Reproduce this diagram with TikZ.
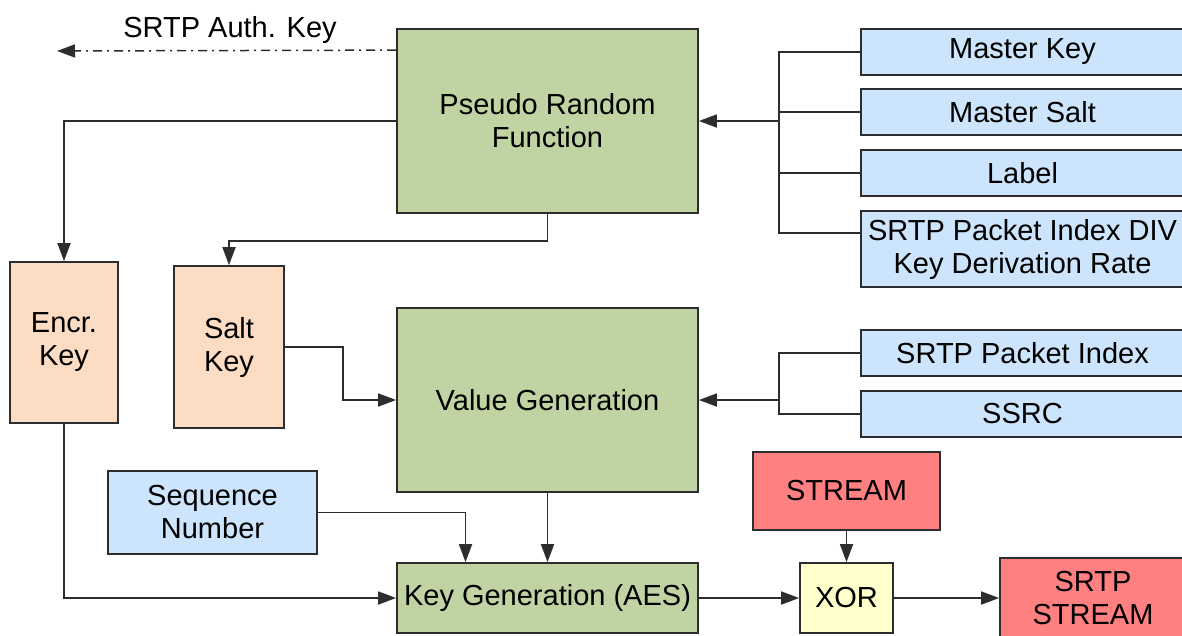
\documentclass[tikz,border=0pt]{standalone}
\usepackage{fontspec}
\setmainfont{Liberation Sans}
\usetikzlibrary{arrows.meta}
\definecolor{prfgreen}{RGB}{192,211,162}
\definecolor{inblue}{RGB}{204,228,252}
\definecolor{keypeach}{RGB}{252,221,196}
\definecolor{streamred}{RGB}{255,128,128}
\definecolor{xoryellow}{RGB}{255,255,204}
\definecolor{edge}{RGB}{45,45,45}
\tikzset{
  blk/.style={draw=edge, line width=1.8pt, align=center, inner sep=0pt,
    font=\fontsize{29}{33}\selectfont},
  func/.style={blk, fill=prfgreen},
  inp/.style={blk, fill=inblue},
  keybox/.style={blk, fill=keypeach},
  strm/.style={blk, fill=streamred},
  xorbox/.style={blk, fill=xoryellow},
  conn/.style={draw=edge, line width=1.8pt},
  arr/.style={conn, -{Triangle[length=18pt,width=13pt]}},
  authline/.style={draw=edge, line width=1.5pt,
    dash pattern=on 9pt off 5pt on 2pt off 5pt,
    -{Triangle[length=18pt,width=13pt]}}
}
\begin{document}
\begin{tikzpicture}[x=1pt,y=-1pt]
  \useasboundingbox (0,0) rectangle (1182,635);
  \clip (0,0) rectangle (1182,635);

  % processing blocks
  \node[func, minimum width=301pt, minimum height=184pt] (prf) at (547.5,121) {Pseudo Random\\Function};
  \node[func, minimum width=301pt, minimum height=184pt] (vg) at (547.5,400) {Value Generation};
  \node[func, minimum width=301pt, minimum height=70pt] (kg) at (547.5,598) {Key Generation (AES)};

  % inputs to the pseudo random function
  \node[inp, minimum width=323pt, minimum height=46pt] (mkey) at (1022.5,52) {Master Key};
  \node[inp, minimum width=323pt, minimum height=46pt] (msalt) at (1022.5,112) {Master Salt};
  \node[inp, minimum width=323pt, minimum height=46pt] (label) at (1022.5,173) {Label};
  \node[inp, minimum width=323pt, minimum height=76pt] (div) at (1022.5,249) {SRTP Packet Index DIV\\Key Derivation Rate};

  % inputs to the value generation
  \node[inp, minimum width=323pt, minimum height=46pt] (pidx) at (1022.5,353) {SRTP Packet Index};
  \node[inp, minimum width=323pt, minimum height=46pt] (ssrc) at (1022.5,414) {SSRC};
  \node[inp, minimum width=209pt, minimum height=83pt] (seq) at (212.5,512.5) {Sequence\\Number};

  % derived keys
  \node[keybox, minimum width=108pt, minimum height=161pt] (enc) at (64,342.5) {Encr.\\Key};
  \node[keybox, minimum width=110pt, minimum height=162pt] (salt) at (229,347) {Salt\\Key};

  % stream encryption
  \node[strm, minimum width=187pt, minimum height=78pt] (stream) at (846.5,491) {STREAM};
  \node[xorbox, minimum width=93pt, minimum height=70pt] (xor) at (846.5,598) {XOR};
  \node[strm, minimum width=186pt, minimum height=80pt] (sstream) at (1093,598) {SRTP\\STREAM};

  % authentication key output
  \coordinate (authend) at (57,51);
  \draw[authline] ([yshift=-22pt]prf.north west) -- (authend);
  \node[font=\fontsize{29}{33}\selectfont] (authlbl) at (230,30) {SRTP Auth. Key};

  % collecting bus into the pseudo random function
  \coordinate (bus1) at (779,121);
  \draw[conn] (mkey.west) -| (bus1);
  \draw[conn] (msalt.west) -| (bus1);
  \draw[conn] (label.west) -| (bus1);
  \draw[conn] ([yshift=16pt]div.west) -| (bus1);
  \draw[arr] (bus1) -- (prf.east);

  % collecting bus into the value generation
  \coordinate (bus2) at (779,400);
  \draw[conn] (pidx.west) -| (bus2);
  \draw[conn] (ssrc.west) -| (bus2);
  \draw[arr] (bus2) -- (vg.east);

  % key derivation paths
  \draw[arr] (prf.west) -| (enc.north);
  \draw[arr] (prf.south) -- ++(0,27) -| (salt.north);
  \draw[arr] (salt.east) -- ++(58,0) |- (vg.west);
  \draw[arr] (enc.south) |- (kg.west);
  \draw[arr] (seq.east) -| ([xshift=-82pt]kg.north);
  \draw[arr] (vg.south) -- (kg.north);

  % keystream and XOR
  \draw[arr] (kg.east) -- (xor.west);
  \draw[arr] (stream.south) -- (xor.north);
  \draw[arr] (xor.east) -- (sstream.west);
\end{tikzpicture}
\end{document}
